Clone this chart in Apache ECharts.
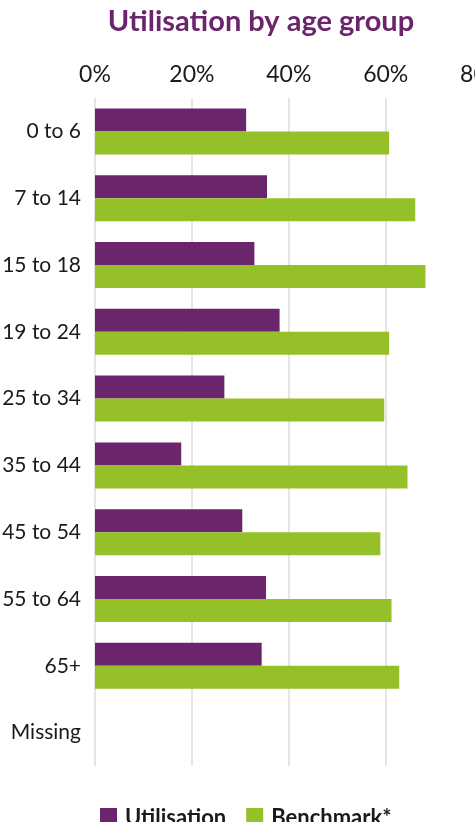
<!DOCTYPE html>
<html>
<head>
<meta charset="utf-8">
<script src="https://cdn.jsdelivr.net/npm/echarts@6/dist/echarts.min.js"></script>
<style>
html,body{margin:0;padding:0;background:#fff;}
#chart{width:475px;height:822px;}
</style>
</head>
<body>
<div id="chart"></div>
<script>
var categories = ['0 to 6','7 to 14','15 to 18','19 to 24','25 to 34','35 to 44','45 to 54','55 to 64','65+','Missing'];
var utilisation = [31.2, 35.5, 32.9, 38.1, 26.7, 17.8, 30.4, 35.3, 34.4, null];
var benchmark = [60.7, 66.1, 68.2, 60.7, 59.7, 64.5, 58.9, 61.2, 62.8, null];
var xTicks = [0, 20, 40, 60, 80];

var FONT = 'Lato';
var chart = echarts.init(document.getElementById('chart'), null, {renderer:'canvas'});
chart.setOption({
  animation: false,
  backgroundColor: '#ffffff',
  title: {
    text: 'Utilisation by age group',
    left: 256, top: 2, textAlign: 'center',
    textStyle: {color:'#6a256d', fontFamily: FONT, fontWeight:'bold', fontSize: 29}
  },
  legend: {
    left: 95, top: 802,
    itemWidth: 17, itemHeight: 20, itemGap: 20,
    icon: 'rect',
    textStyle: {color:'#1a1a1a', fontFamily: FONT, fontWeight:'bold', fontSize: 22, padding:[0,0,0,3]},
    data: ['Utilisation','Benchmark*']
  },
  grid: {left: 95, top: 98, width: 387.6, height: 668, containLabel: false, outerBoundsMode: 'none'},
  xAxis: {
    type: 'value', position: 'top', min: xTicks[0], max: xTicks[xTicks.length-1], interval: 20,
    axisLine: {show:false}, axisTick: {show:false},
    axisLabel: {formatter: '{value}%', color:'#1a1a1a', fontFamily: FONT, fontSize: 23, margin: 12, showMaxLabel: true},
    splitLine: {show:true, lineStyle:{color:'#dcdcdc', width:1.5}}
  },
  yAxis: {
    type: 'category', inverse: true, data: categories,
    axisLine: {show:false}, axisTick: {show:false},
    axisLabel: {color:'#1a1a1a', fontFamily: FONT, fontSize: 21, margin: 14}
  },
  series: [
    {name:'Utilisation', type:'bar', data: utilisation, barWidth: 23, barGap: '0%',
     itemStyle:{color:'#6a256d'}},
    {name:'Benchmark*', type:'bar', data: benchmark, barWidth: 23,
     itemStyle:{color:'#95c027'}}
  ]
});
</script>
</body>
</html>
